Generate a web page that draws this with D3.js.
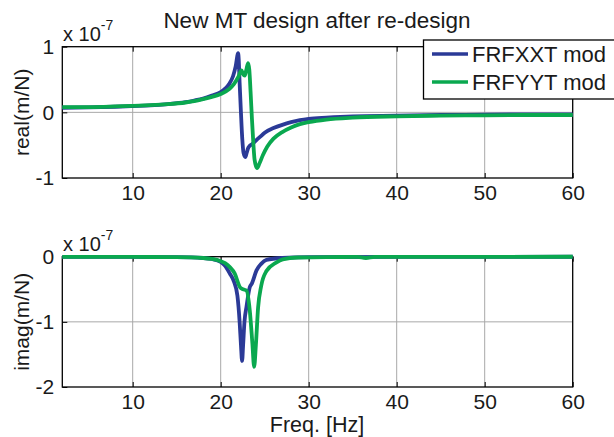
<!DOCTYPE html>
<html lang="en">
<head>
<meta charset="UTF-8">
<title>New MT design after re-design</title>
<script src="https://d3js.org/d3.v7.min.js"></script>
<style>
    body { margin: 0; background: #fff; }
    svg { display: block; font-family: "Liberation Sans", Arial, sans-serif; }
    .grid line { stroke: #a8a8a8; stroke-width: 1px; }
</style>
</head>
<body>
<div id="chart"></div>
<script>
// values are in units of 1e-7 m/N, frequency in Hz
const realXXT = [
    [2, 0.07], [5, 0.075], [8, 0.085], [10, 0.095], [12, 0.105], [14, 0.125], [16, 0.155],
    [17, 0.18], [18, 0.21], [19, 0.255], [20, 0.31], [20.5, 0.36], [21, 0.44], [21.4, 0.55],
    [21.7, 0.70], [21.98, 0.90], [22.05, 0.80], [22.15, 0.45], [22.3, 0.0], [22.45, -0.4],
    [22.6, -0.62], [22.8, -0.68], [22.95, -0.62], [23.1, -0.55], [23.3, -0.51], [23.6, -0.48],
    [24, -0.43], [24.5, -0.37], [25, -0.31], [26, -0.24], [27, -0.19], [28, -0.15], [29, -0.12],
    [30, -0.10], [32, -0.08], [35, -0.06], [40, -0.05], [45, -0.04], [50, -0.035], [55, -0.03], [60, -0.03]
];
const realYYT = [
    [2, 0.08], [5, 0.08], [8, 0.09], [10, 0.10], [12, 0.11], [14, 0.125], [16, 0.15],
    [17, 0.17], [18, 0.20], [19, 0.235], [20, 0.28], [21, 0.36], [21.5, 0.43], [22, 0.54],
    [22.36, 0.64], [22.55, 0.58], [22.74, 0.56], [22.9, 0.64], [23.11, 0.75], [23.25, 0.65],
    [23.4, 0.3], [23.55, -0.1], [23.7, -0.45], [23.85, -0.72], [24.13, -0.85], [24.4, -0.78],
    [24.8, -0.65], [25.3, -0.52], [26, -0.40], [27, -0.30], [28, -0.23], [29, -0.18], [30, -0.15],
    [32, -0.11], [35, -0.08], [40, -0.06], [45, -0.05], [50, -0.045], [55, -0.04], [60, -0.04]
];
const imagXXT = [
    [2, -0.002], [10, -0.004], [15, -0.008], [18, -0.02], [19, -0.035], [20, -0.08], [20.5, -0.14],
    [21.04, -0.26], [21.5, -0.38], [21.9, -0.6], [22.15, -1.0], [22.3, -1.35], [22.43, -1.60],
    [22.55, -1.35], [22.7, -1.0], [22.93, -0.77], [23.3, -0.47], [23.55, -0.41], [24.07, -0.21],
    [24.6, -0.11], [25.2, -0.05], [27, -0.02], [30, -0.008], [40, -0.003], [60, -0.001]
];
const imagYYT = [
    [2, -0.002], [10, -0.004], [15, -0.007], [18, -0.02], [19, -0.035], [20, -0.07], [20.5, -0.10],
    [21.04, -0.16], [21.6, -0.26], [22.2, -0.47], [22.55, -0.50], [22.93, -0.52], [23.3, -0.82],
    [23.6, -1.33], [23.8, -1.69], [24.0, -1.35], [24.25, -0.78], [24.6, -0.45], [25.2, -0.22],
    [26.3, -0.09], [27.05, -0.04], [28.8, -0.012], [32, -0.005], [35.5, -0.004], [36.5, -0.02],
    [37.5, -0.004], [45, -0.002], [60, -0.001]
];

const seriesNames = ['FRFXXT mod', 'FRFYYT mod'];
const seriesColors = ['#2b3a97', '#0aa84f'];
const xTicks = [10, 20, 30, 40, 50, 60];
const realTicks = [-1, 0, 1];
const imagTicks = [-2, -1, 0];

const width = 614, height = 437;
const svg = d3.select('#chart').append('svg')
    .attr('width', width)
    .attr('height', height);

const x = d3.scaleLinear().domain([2, 60]).range([62.3, 572.7]);

function drawPanel(opts) {
    const y = d3.scaleLinear().domain(opts.yDomain).range([opts.bottom, opts.top]);
    const g = svg.append('g');

    // grid
    const grid = g.append('g').attr('class', 'grid');
    grid.selectAll('line.gx').data(xTicks.filter(t => t < 60)).enter().append('line')
        .attr('x1', d => x(d)).attr('x2', d => x(d))
        .attr('y1', opts.top).attr('y2', opts.bottom);
    grid.selectAll('line.gy').data(opts.yTicks.filter(t => t > opts.yDomain[0] && t < opts.yDomain[1])).enter().append('line')
        .attr('x1', x.range()[0]).attr('x2', x.range()[1])
        .attr('y1', d => y(d)).attr('y2', d => y(d));

    // box
    g.append('rect')
        .attr('x', x.range()[0]).attr('y', opts.top)
        .attr('width', x.range()[1] - x.range()[0])
        .attr('height', opts.bottom - opts.top)
        .attr('fill', 'none').attr('stroke', '#000').attr('stroke-width', 1.3);

    // axes (ticks inward)
    const xAxis = d3.axisBottom(x).tickValues(xTicks).tickSizeInner(-5).tickSizeOuter(0).tickPadding(10);
    const xa = g.append('g').attr('transform', `translate(0,${opts.bottom})`).call(xAxis);
    xa.select('.domain').remove();
    xa.selectAll('text').attr('font-size', 21).attr('font-family', '"Liberation Sans", Arial, sans-serif')
        .attr('fill', '#1a1a1a').attr('dy', '0.95em').attr('y', 2);
    const xAxisTop = d3.axisTop(x).tickValues(xTicks).tickSizeInner(-5).tickSizeOuter(0).tickFormat('');
    const xt = g.append('g').attr('transform', `translate(0,${opts.top})`).call(xAxisTop);
    xt.select('.domain').remove();

    const yAxis = d3.axisLeft(y).tickValues(opts.yTicks).tickSizeInner(-5).tickSizeOuter(0).tickPadding(8)
        .tickFormat(d3.format('d'));
    const ya = g.append('g').attr('transform', `translate(${x.range()[0]},0)`).call(yAxis);
    ya.select('.domain').remove();
    ya.selectAll('text').attr('font-size', 21).attr('font-family', '"Liberation Sans", Arial, sans-serif')
        .attr('fill', '#1a1a1a').text(d => d < 0 ? '-' + Math.abs(d) : d);

    // exponent label
    const ex = g.append('text')
        .attr('x', 63).attr('y', opts.top - 6)
        .attr('font-size', 20).attr('fill', '#1a1a1a');
    ex.append('tspan').text('x 10');
    ex.append('tspan').attr('font-size', 14).attr('dy', -11).text('-7');

    // y label
    g.append('text')
        .attr('transform', `translate(29,${(opts.top + opts.bottom) / 2}) rotate(-90)`)
        .attr('text-anchor', 'middle')
        .attr('font-size', 21).attr('fill', '#1a1a1a')
        .text(opts.yLabel);

    // curves
    const line = d3.line()
        .x(d => x(d[0]))
        .y(d => y(d[1]))
        .curve(d3.curveMonotoneX);
    opts.series.forEach((s, i) => {
        g.append('path')
            .datum(s)
            .attr('fill', 'none')
            .attr('stroke', seriesColors[i])
            .attr('stroke-width', 3.8)
            .attr('stroke-linejoin', 'round')
            .attr('d', line);
    });
    return g;
}

drawPanel({
    top: 46.7, bottom: 178, yDomain: [-1, 1], yTicks: realTicks,
    yLabel: 'real(m/N)', series: [realXXT, realYYT]
});
drawPanel({
    top: 256.7, bottom: 387, yDomain: [-2, 0], yTicks: imagTicks,
    yLabel: 'imag(m/N)', series: [imagXXT, imagYYT]
});

// title
svg.append('text')
    .attr('x', 317).attr('y', 28)
    .attr('text-anchor', 'middle')
    .attr('font-size', 22.5).attr('fill', '#1a1a1a')
    .text('New MT design after re-design');

// x label
svg.append('text')
    .attr('x', 317).attr('y', 432)
    .attr('text-anchor', 'middle')
    .attr('font-size', 21.5).attr('fill', '#1a1a1a')
    .text('Freq. [Hz]');

// legend
const legend = svg.append('g');
legend.append('rect')
    .attr('x', 423.5).attr('y', 40)
    .attr('width', 200).attr('height', 59)
    .attr('fill', '#fff').attr('stroke', '#000').attr('stroke-width', 1.3);
seriesNames.forEach((name, i) => {
    const cy = 54 + i * 28;
    legend.append('line')
        .attr('x1', 432).attr('x2', 468)
        .attr('y1', cy).attr('y2', cy)
        .attr('stroke', seriesColors[i]).attr('stroke-width', 3.5);
    legend.append('text')
        .attr('x', 472).attr('y', cy + 8)
        .attr('font-size', 22).attr('fill', '#1a1a1a')
        .text(name);
});
</script>
</body>
</html>
